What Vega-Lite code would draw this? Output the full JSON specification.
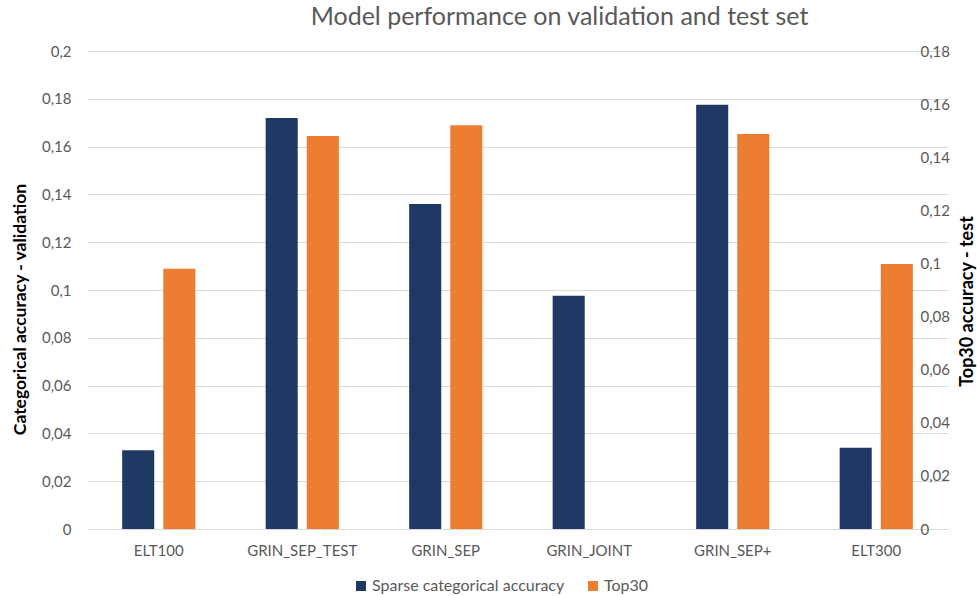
{
  "$schema": "https://vega.github.io/schema/vega-lite/v6.json",
  "width": 861,
  "height": 478,
  "autosize": {"type": "none"},
  "padding": {"left": 87, "top": 51, "right": 29, "bottom": 67},
  "background": "white",
  "title": {
    "text": "Model performance on validation and test set",
    "font": "Lato",
    "fontSize": 25,
    "fontWeight": "normal",
    "color": "#595959",
    "anchor": "middle",
    "dx": 42,
    "offset": 14
  },
  "data": {
    "values": [
      {"category": "ELT100", "series": "Sparse categorical accuracy", "value": 0.033},
      {"category": "ELT100", "series": "Top30", "value": 0.098},
      {"category": "GRIN_SEP_TEST", "series": "Sparse categorical accuracy", "value": 0.172},
      {"category": "GRIN_SEP_TEST", "series": "Top30", "value": 0.148},
      {"category": "GRIN_SEP", "series": "Sparse categorical accuracy", "value": 0.136},
      {"category": "GRIN_SEP", "series": "Top30", "value": 0.152},
      {"category": "GRIN_JOINT", "series": "Sparse categorical accuracy", "value": 0.0976},
      {"category": "GRIN_SEP+", "series": "Sparse categorical accuracy", "value": 0.1775},
      {"category": "GRIN_SEP+", "series": "Top30", "value": 0.1487},
      {"category": "ELT300", "series": "Sparse categorical accuracy", "value": 0.034},
      {"category": "ELT300", "series": "Top30", "value": 0.0998}
    ]
  },
  "encoding": {
    "x": {
      "field": "category",
      "type": "nominal",
      "sort": ["ELT100", "GRIN_SEP_TEST", "GRIN_SEP", "GRIN_JOINT", "GRIN_SEP+", "ELT300"],
      "scale": {"paddingInner": 0.49, "paddingOuter": 0.245},
      "axis": {
        "title": null,
        "labelAngle": 0,
        "labelFont": "Lato",
        "labelFontSize": 15,
        "labelColor": "#595959",
        "labelPadding": 14,
        "ticks": false,
        "domain": true,
        "domainColor": "#d9d9d9",
        "grid": false
      }
    },
    "xOffset": {
      "field": "series",
      "type": "nominal",
      "scale": {"domain": ["Sparse categorical accuracy", "Top30"], "paddingInner": 0.22, "paddingOuter": 0}
    },
    "color": {
      "field": "series",
      "type": "nominal",
      "scale": {"domain": ["Sparse categorical accuracy", "Top30"], "range": ["#203864", "#ed7d31"]},
      "legend": {
        "title": null,
        "orient": "none",
        "direction": "horizontal",
        "legendX": 266,
        "legendY": 527,
        "padding": 0,
        "symbolType": "square",
        "symbolSize": 100,
        "symbolStrokeWidth": 0,
        "labelFont": "Lato",
        "labelFontSize": 16,
        "labelColor": "#595959",
        "labelLimit": 0,
        "labelOffset": 3,
        "columnPadding": 20
      }
    }
  },
  "layer": [
    {
      "transform": [{"filter": "datum.series === 'Sparse categorical accuracy'"}],
      "mark": {"type": "bar"},
      "encoding": {
        "y": {
          "field": "value",
          "type": "quantitative",
          "scale": {"domain": [0, 0.2], "nice": false},
          "axis": {
            "title": "Categorical accuracy - validation",
            "titleFont": "Lato",
            "titleFontSize": 17.5,
            "titleFontWeight": "bold",
            "titleColor": "#000000",
            "titleAngle": 270,
            "titleAlign": "center",
            "titleBaseline": "middle",
            "titleX": -67,
            "titleY": 258,
            "values": [0, 0.02, 0.04, 0.06, 0.08, 0.1, 0.12, 0.14, 0.16, 0.18, 0.2],
            "labelExpr": "replace(format(datum.value, '.2~f'), '.', ',')",
            "labelFont": "Lato",
            "labelFontSize": 15,
            "labelColor": "#595959",
            "labelPadding": 16,
            "ticks": false,
            "domain": false,
            "grid": true,
            "gridColor": "#d9d9d9",
            "gridWidth": 1
          }
        }
      }
    },
    {
      "transform": [{"filter": "datum.series === 'Top30'"}],
      "mark": {"type": "bar"},
      "encoding": {
        "y": {
          "field": "value",
          "type": "quantitative",
          "scale": {"domain": [0, 0.18], "nice": false},
          "axis": {
            "orient": "right",
            "offset": -30,
            "title": "Top30 accuracy - test",
            "titleFont": "Lato",
            "titleFontSize": 18,
            "titleFontWeight": "bold",
            "titleColor": "#000000",
            "titleAngle": 270,
            "titleAlign": "center",
            "titleBaseline": "middle",
            "titleX": 49,
            "titleY": 250,
            "values": [0, 0.02, 0.04, 0.06, 0.08, 0.1, 0.12, 0.14, 0.16, 0.18],
            "labelExpr": "replace(format(datum.value, '.2~f'), '.', ',')",
            "labelFont": "Lato",
            "labelFontSize": 15,
            "labelColor": "#595959",
            "labelAlign": "left",
            "labelPadding": 2,
            "ticks": false,
            "domain": false,
            "grid": false
          }
        }
      }
    }
  ],
  "resolve": {"scale": {"y": "independent"}},
  "config": {"view": {"stroke": null}, "font": "Lato"}
}
